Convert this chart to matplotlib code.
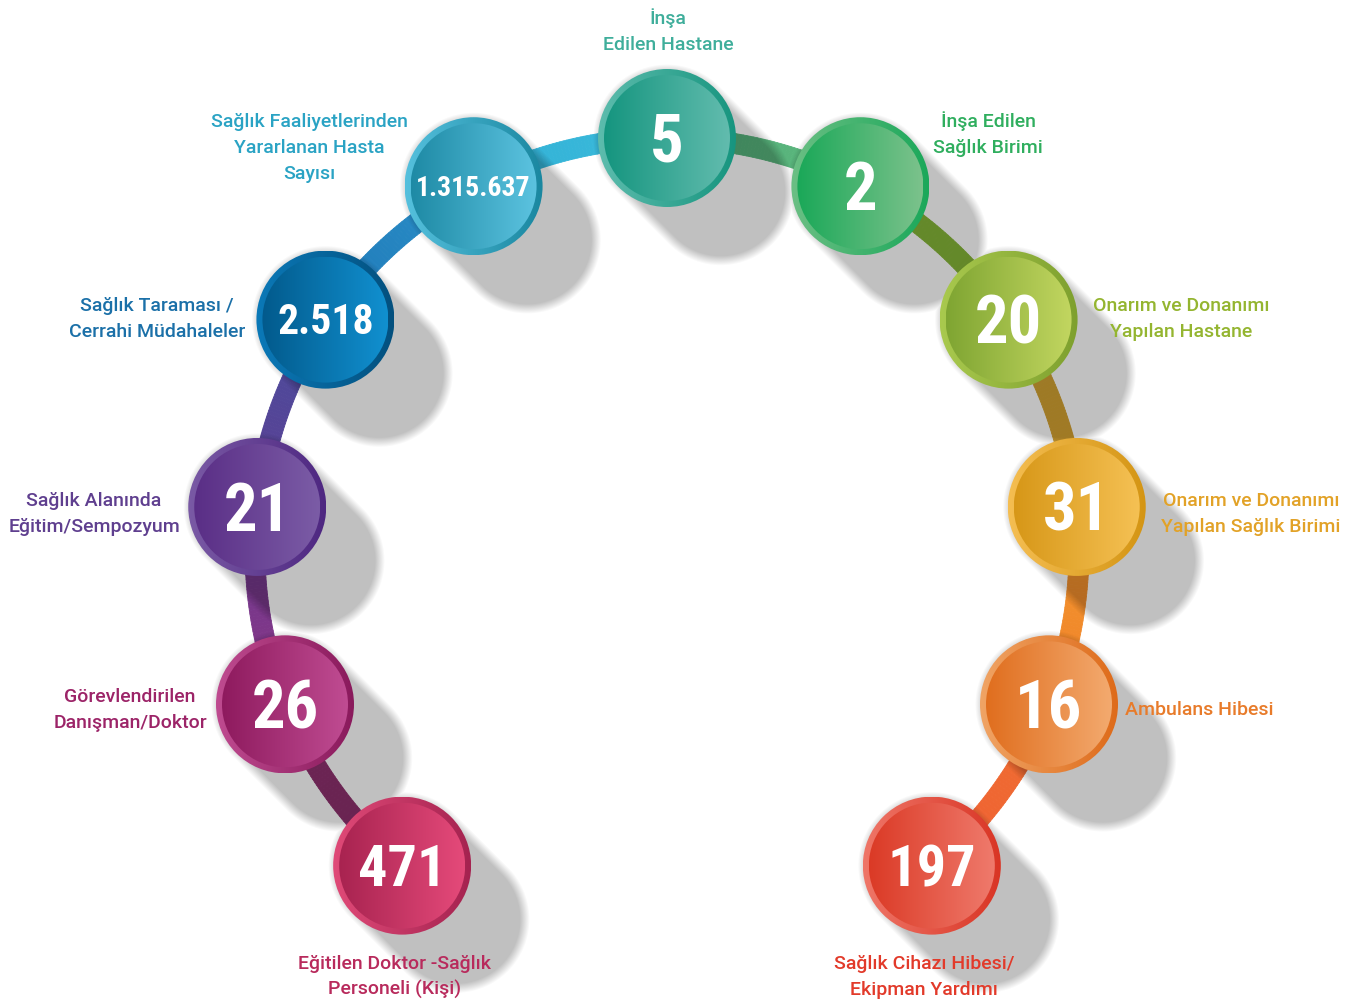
import numpy as np
import matplotlib
matplotlib.use('Agg')
import matplotlib.pyplot as plt
from matplotlib import font_manager
from matplotlib.colors import LinearSegmentedColormap, to_rgb
from matplotlib.patches import Circle
from matplotlib.collections import PolyCollection

# values along the arc, from bottom-left to bottom-right
values = ["471", "26", "21", "2.518", "1.315.637", "5", "2", "20", "31", "16", "197"]
labels = [
    ["Eğitilen Doktor -Sağlık", "Personeli (Kişi)"],
    ["Görevlendirilen", "Danışman/Doktor"],
    ["Sağlık Alanında", "Eğitim/Sempozyum"],
    ["Sağlık Taraması /", "Cerrahi Müdahaleler"],
    ["Sağlık Faaliyetlerinden", "Yararlanan Hasta", "Sayısı"],
    ["İnşa", "Edilen Hastane"],
    ["İnşa Edilen", "Sağlık Birimi"],
    ["Onarım ve Donanımı", "Yapılan Hastane"],
    ["Onarım ve Donanımı", "Yapılan Sağlık Birimi"],
    ["Ambulans Hibesi"],
    ["Sağlık Cihazı Hibesi/", "Ekipman Yardımı"],
]
label_colors = ["#b82a5c", "#9c2468", "#5f3f8f", "#1b70a8", "#2aa3c4", "#3fae9b",
                "#2fae5e", "#94b530", "#e2a227", "#e87b2a", "#e23a2a"]
# inner disc gradient (left, right)
disc_colors = [("#a82350", "#e54a7a"), ("#8e1a5e", "#c04c92"), ("#5a2e86", "#7b5ca6"),
               ("#025a8c", "#1190d0"), ("#1e8aa5", "#5cc3e0"), ("#15957f", "#62bcae"),
               ("#1aa858", "#7cc28c"), ("#7fa532", "#c2d660"), ("#d79718", "#f5c154"),
               ("#e06e1e", "#f3aa6f"), ("#db3a26", "#ef7a6c")]
ring_colors = [("#e04a78", "#a52350"), ("#bf4b90", "#8a1a5c"), ("#7a5aa5", "#4e2781"),
               ("#0b79b8", "#03507e"), ("#55c0dd", "#1a87a0"), ("#5dbcad", "#17957f"),
               ("#6bbf84", "#1ba85a"), ("#a9c94e", "#7ea02e"), ("#f5be52", "#d49514"),
               ("#f0a465", "#de6b1a"), ("#ef7668", "#d93525")]
# connecting arc pieces (start, end)
arc_colors = [("#8a2e6a", "#923272"), ("#8a3585", "#6a3a90"), ("#5c3f92", "#4a4d9e"),
              ("#1f78b8", "#2a90c8"), ("#30b0d8", "#3cbbd9"), ("#52b27c", "#5db67c"),
              ("#86b83a", "#86b436"), ("#d0a534", "#d8a030"), ("#f39a30", "#f08028"),
              ("#f07030", "#ee5f34")]

# pick a narrow bold face for the big numbers if one is installed
names = {f.name for f in font_manager.fontManager.ttflist}
num_kw = dict(family=['Roboto', 'DejaVu Sans'])
for n in ['Roboto Condensed', 'Liberation Sans Narrow', 'DejaVu Sans Condensed']:
    if n in names:
        num_kw = dict(family=[n, 'DejaVu Sans'])
        break

W, H = 1359, 1001
fig = plt.figure(figsize=(W / 100, H / 100), dpi=100)
ax = fig.add_axes([0, 0, 1, 1])
ax.axis('off')

cx, cy, R = 667, 550, 412
angles = np.radians(230 - 28 * np.arange(len(values)))
xs = cx + R * np.cos(angles)
ys = cy - R * np.sin(angles)
r_out, r_in = 69, 63
arc_w = 10

# arc
polys, cols = [], []
for i in range(len(values) - 1):
    th = np.linspace(angles[i], angles[i + 1], 60)
    c0, c1 = np.array(to_rgb(arc_colors[i][0])), np.array(to_rgb(arc_colors[i][1]))
    for j in range(len(th) - 1):
        a, b = th[j], th[j + 1]
        q = [(cx + (R - arc_w) * np.cos(a), cy - (R - arc_w) * np.sin(a)),
             (cx + (R + arc_w) * np.cos(a), cy - (R + arc_w) * np.sin(a)),
             (cx + (R + arc_w) * np.cos(b), cy - (R + arc_w) * np.sin(b)),
             (cx + (R - arc_w) * np.cos(b), cy - (R - arc_w) * np.sin(b))]
        polys.append(q)
        f = j / (len(th) - 2)
        cols.append(c0 * (1 - f) + c1 * f)
ax.add_collection(PolyCollection(polys, facecolors=cols, edgecolors=cols, linewidths=0.6, zorder=1))

# long diagonal shadows
yy, xx = np.mgrid[0:H, 0:W] + 0.5
alpha = np.zeros((H, W))
L = 76
s2 = np.sqrt(2)
for x, y in zip(xs, ys):
    t = np.clip(((xx - x) + (yy - y)) / s2, 0, L)
    d = np.hypot(xx - (x + t / s2), yy - (y + t / s2))
    alpha = np.maximum(alpha, np.clip((r_out + 5 - d) / 10, 0, 1))
shadow = np.zeros((H, W, 4))
shadow[..., 3] = alpha * 0.25
ax.imshow(shadow, extent=(0, W, H, 0), zorder=2, interpolation='bilinear')

# circles
grad = np.linspace(0, 1, 256).reshape(1, -1)
for i, (x, y) in enumerate(zip(xs, ys)):
    cm = LinearSegmentedColormap.from_list('r%d' % i, ring_colors[i])
    im = ax.imshow(grad, cmap=cm, extent=(x - r_out, x + r_out, y + r_out, y - r_out),
                   zorder=3, aspect='auto')
    im.set_clip_path(Circle((x, y), r_out, transform=ax.transData))
    cm = LinearSegmentedColormap.from_list('d%d' % i, disc_colors[i])
    im = ax.imshow(grad, cmap=cm, extent=(x - r_in, x + r_in, y + r_in, y - r_in),
                   zorder=4, aspect='auto')
    im.set_clip_path(Circle((x, y), r_in, transform=ax.transData))

    v = values[i]
    if len(v) > 6:
        fs = 20
    elif len(v) > 3:
        fs = 30
    elif len(v) == 3:
        fs = 42
    else:
        fs = 48
    em = fs / 0.72
    ax.text(x, y + 0.355 * em, v, ha='center', va='baseline', fontsize=fs, color='white',
            fontweight='bold', zorder=5, **num_kw)

# label layout (center x, first line center y)
label_pos = [(395, 962), (130, 695), (94, 499), (157, 304), (309, 120), (668, 17),
             (988, 120), (1181, 304), (1251, 499), (1199, 708), (924, 962)]
for i, (lx, ly) in enumerate(label_pos):
    for k, line in enumerate(labels[i]):
        ax.text(lx, ly + 26 * k + 7, line, ha='center', va='baseline', fontsize=14,
                color=label_colors[i], fontweight='medium', family=['Roboto', 'DejaVu Sans'],
                zorder=5)

ax.set_xlim(0, W)
ax.set_ylim(H, 0)
fig.savefig('out.png', dpi=100, facecolor='white')
